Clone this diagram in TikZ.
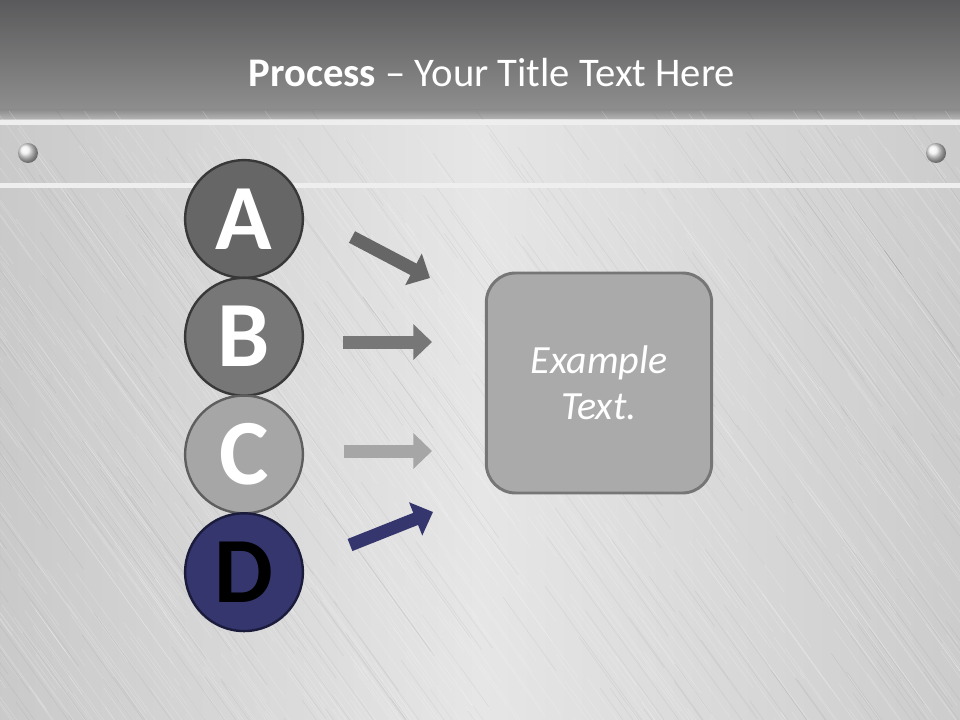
\documentclass[tikz,border=0pt]{standalone}
\usepackage{fontspec}
\setmainfont{Carlito}
\usepackage{xcolor}
\usetikzlibrary{shapes,arrows.meta,positioning,calc}

\definecolor{hdtop}{HTML}{5A5A5C}
\definecolor{hdbot}{HTML}{8E8E8E}
\definecolor{metal}{HTML}{D9D9D9}
\definecolor{metalhi}{HTML}{E6E6E6}
\definecolor{stripe}{HTML}{EEEEEE}
\definecolor{fillA}{HTML}{666666}
\definecolor{fillB}{HTML}{777777}
\definecolor{fillC}{HTML}{A6A6A6}
\definecolor{fillD}{HTML}{35366E}
\definecolor{lineA}{HTML}{383838}
\definecolor{lineC}{HTML}{5E5E5E}
\definecolor{lineD}{HTML}{1B1B3C}
\definecolor{boxfill}{HTML}{AAAAAA}
\definecolor{boxline}{HTML}{767676}

\begin{document}
\begin{tikzpicture}[x=0.75pt,y=-0.75pt,
    letter/.style={draw,circle,line width=1.8pt,minimum size=88.3pt,inner sep=0pt,outer sep=0pt,
        font=\fontsize{70}{70}\selectfont\bfseries,text=white},
    pointer/.style={line width=9.75pt,-{Triangle[length=14pt,width=26pt]}},
    streak/.style={white,opacity=0.28,line width=0.3pt},
    darkstreak/.style={black,opacity=0.06,line width=0.4pt}]
    \useasboundingbox (0,0) rectangle (960,720);

    % background
    \shade[top color=hdtop,bottom color=hdbot] (0,0) rectangle (960,110);
    \shade[top color=hdbot,bottom color=black!28] (0,110) rectangle (960,120);
    \shade[left color=black!21,right color=black!20,middle color=metalhi] (0,120) rectangle (960,720);
    \begin{scope}
        \clip (0,112) rectangle (960,720);
        \pgfmathsetseed{42}
        \foreach \k in {1,...,700}{
            \pgfmathsetmacro{\sx}{random(-200,960)}
            \pgfmathsetmacro{\sy}{random(100,720)}
            \pgfmathsetmacro{\sl}{random(30,200)}
            \draw[streak] (\sx,\sy) -- ++(0.72*\sl,\sl);
        }
        \foreach \k in {1,...,300}{
            \pgfmathsetmacro{\sx}{random(-200,960)}
            \pgfmathsetmacro{\sy}{random(100,720)}
            \pgfmathsetmacro{\sl}{random(30,200)}
            \draw[darkstreak] (\sx,\sy) -- ++(0.72*\sl,\sl);
        }
    \end{scope}
    \fill[stripe] (0,120) rectangle (960,125);
    \fill[stripe] (0,183) rectangle (960,188);
    \shade[ball color=black!6] (28,153) circle (10);
    \shade[ball color=black!6] (936,153) circle (10);

    % title
    \node[anchor=base,font=\fontsize{30.5}{36}\selectfont,text=white] (title) at (492,87)
        {\textbf{Process} -- Your Title Text Here};

    % letters
    \node[letter,fill=fillA,draw=lineA] (A) at (244,219) {A};
    \node[letter,fill=fillB,draw=lineA,below=0pt of A] (B) {B};
    \node[letter,fill=fillC,draw=lineC,below=0pt of B] (C) {C};
    \node[letter,fill=fillD,draw=lineD,text=black,below=0pt of C] (D) {D};

    % box
    \node[draw=boxline,fill=boxfill,line width=2.2pt,rounded corners=22pt,
        minimum width=169pt,minimum height=165pt,text=white,align=center,
        font=\fontsize{30}{34.5}\selectfont\itshape] (box) at (599,383) {Example\\Text.};

    % arrows
    \coordinate (a0) at (352,237);
    \coordinate (a1) at (430,278);
    \coordinate (b0) at (343,342);
    \coordinate (b1) at (432,342);
    \coordinate (c0) at (344,451);
    \coordinate (c1) at (432,451);
    \coordinate (d0) at (350,545);
    \coordinate (d1) at (433,512);
    \draw[pointer,fillA] (a0) -- (a1);
    \draw[pointer,fillB] (b0) -- (b1);
    \draw[pointer,fillC] (c0) -- (c1);
    \draw[pointer,fillD] (d0) -- (d1);
\end{tikzpicture}
\end{document}
